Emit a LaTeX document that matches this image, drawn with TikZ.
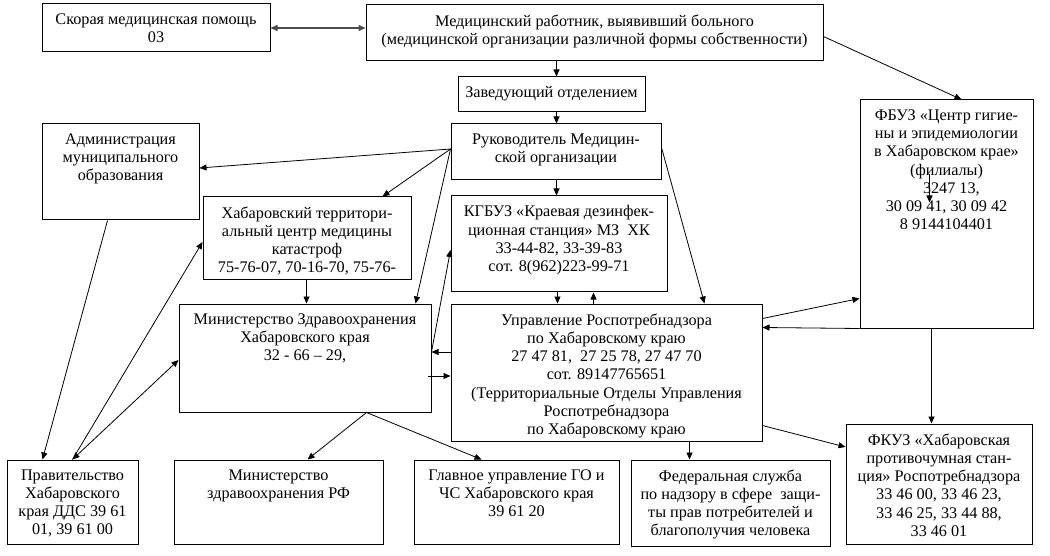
\documentclass[tikz,border=0pt]{standalone}
\usepackage{fontspec}
\setmainfont{Liberation Serif}
\usetikzlibrary{arrows.meta}
\tikzset{
  box/.style={draw, line width=1pt, rectangle, inner sep=0pt, fill=white},
  txt/.style={anchor=north, align=center, inner sep=0pt, font=\fontsize{16.2pt}{18.2pt}\selectfont},
  arr/.style={line width=0.8pt, -{Triangle[length=7pt,width=6pt]}},
  darr/.style={line width=0.8pt, {Triangle[length=7pt,width=6pt]}-{Triangle[length=7pt,width=6pt]}},
  gdarr/.style={line width=1.4pt, draw=black!70, {Triangle[length=7pt,width=6pt]}-{Triangle[length=7pt,width=6pt]}},
}
\newcommand\mybox[6]{%
  \node[box, minimum width=#4pt-#2pt, minimum height=#5pt-#3pt] (#1) at ({(#2+#4)/2},{(#3+#5)/2}) {};
  \node[txt] (#1t) at ([yshift=-10pt]#1.north) {#6};
}
\begin{document}
\begin{tikzpicture}[x=1pt,y=-1pt]
\useasboundingbox[fill=white] (0,0) rectangle (1050,556);

\mybox{skor}{42}{4}{270}{52}{Скорая медицинская помощь\\03}
\mybox{med}{366}{5}{823}{61}{Медицинский работник, выявивший больного\\(медицинской организации различной формы собственности)}
\mybox{zav}{458}{77}{645}{112}{Заведующий отделением}
\mybox{ruk}{451}{124}{661}{180}{Руководитель Медицин-\\ской организации}
\mybox{kgb}{451}{196}{667}{292}{КГБУЗ «Краевая дезинфек-\\ционная станция» МЗ\ \ ХК\\33-44-82, 33-39-83\\сот. 8(962)223-99-71}
\mybox{fbuz}{860}{100}{1033}{328}{ФБУЗ «Центр гигие-\\ны и эпидемиологии\\в Хабаровском крае»\\(филиалы)\\\hspace{0.6em}3247 13,\\30 09 41, 30 09 42\\8 9144104401}
\mybox{adm}{42}{124}{199}{220}{Администрация\\муниципального\\образования}
\mybox{htc}{203}{197}{411}{280}{Хабаровский территори-\\альный центр медицины\\катастроф\\75-76-07, 70-16-70, 75-76-}
\mybox{mzh}{179}{304}{431}{412}{Министерство Здравоохранения\\Хабаровского края\\32 - 66 – 29,}
\node[box, minimum width=311pt, minimum height=137pt] (upr) at (606.5,372.5) {};
\begin{scope}
\clip (452,305) rectangle (761,438);
\node[txt] (uprt) at ([yshift=-10pt]upr.north) {Управление Роспотребнадзора\\по Хабаровскому краю\\27 47 81,\ \ 27 25 78, 27 47 70\\сот. 89147765651\\(Территориальные Отделы Управления\\Роспотребнадзора\\по Хабаровскому краю};
\end{scope}
\mybox{prav}{7}{460}{138}{544}{Правительство\\Хабаровского\\края ДДС 39 61\\01, 39 61 00}
\mybox{mrf}{174}{460}{383}{544}{Министерство\\здравоохранения РФ}
\mybox{gu}{414}{460}{619}{544}{Главное управление ГО и\\ЧС Хабаровского края\\39 61 20}
\mybox{fed}{631}{460}{830}{546}{Федеральная служба\\по надзору в сфере\ \ защи-\\ты прав потребителей и\\благополучия человека}
\mybox{fkuz}{846}{424}{1032}{544}{ФКУЗ «Хабаровская\\противочумная стан-\\ция» Роспотребнадзора\\33 46 00, 33 46 23,\\33 46 25, 33 44 88,\\33 46 01}

% connectors
\draw[gdarr] (skor.east) -- (skor.east -| med.west);
\draw[arr] ([xshift=191pt]med.south west) -- ([xshift=99pt]zav.north west);
\draw[arr] ([xshift=99pt]zav.south west) -- ([xshift=106pt]ruk.north west);
\draw[arr] ([yshift=-32pt]med.north east) -- ([xshift=102pt]fbuz.north west);
\draw[arr] ([xshift=106pt]ruk.south west) -- ([xshift=106pt]kgb.north west);

\coordinate (hub) at ([yshift=3pt]ruk.west);
\draw[arr] (hub) -- ([yshift=4pt]adm.east);
\draw[arr] (hub) -- ([xshift=180pt]htc.north west);
\draw[arr] (hub) -- ([xshift=-16pt]mzh.north east);

\draw[arr] ([yshift=-24pt]ruk.north east) -- ([xshift=254pt]upr.north west);
\draw[arr] ([xshift=107pt]kgb.south west) -- ([xshift=107pt]upr.north west);
\draw[arr] ([xshift=143pt]upr.north west) -- ([xshift=143pt]kgb.south west);

\draw[arr] ([yshift=6pt]mzh.east) -- ([yshift=-6pt]kgb.west);
\draw[arr] ([yshift=20.5pt]upr.west) -- ([yshift=6pt]mzh.east);
\draw[arr] ([xshift=-4pt,yshift=-18pt]mzh.east) -- ([yshift=-3.5pt]upr.west);

\draw[arr] ([xshift=104pt]htc.south west) -- ([xshift=128pt]mzh.north west);
\draw[arr] ([xshift=66pt]adm.south west) -- ([xshift=36pt]prav.north west);
\draw[arr] ([xshift=66pt]prav.north west) -- ([yshift=-3.5pt]htc.west);
\draw[darr] ([xshift=66pt]prav.north west) -- ([yshift=-2pt]mzh.west);

\coordinate (mhub) at ([xshift=188pt]mzh.south west);
\draw[arr] (mhub) -- ([xshift=134pt]mrf.north west);
\draw[arr] (mhub) -- ([xshift=68pt]gu.north west);

\draw[arr] ([xshift=239pt]upr.south west) -- ([xshift=59pt]fed.north west);
\draw[arr] ([yshift=16pt]upr.south east) -- ([yshift=37pt]fkuz.west);
\draw[arr] ([yshift=-15pt]upr.north east) -- ([yshift=30pt]fbuz.south west);
\draw[arr] (fbuz.south west) -- ([yshift=-24pt]upr.north east);
\draw[arr] ([xshift=72pt]fbuz.south west) -- ([xshift=86pt]fkuz.north west);
\draw[arr] ([xshift=70pt,yshift=-75pt]fbuz.north west) -- ([xshift=70pt,yshift=-103pt]fbuz.north west);
\end{tikzpicture}
\end{document}
